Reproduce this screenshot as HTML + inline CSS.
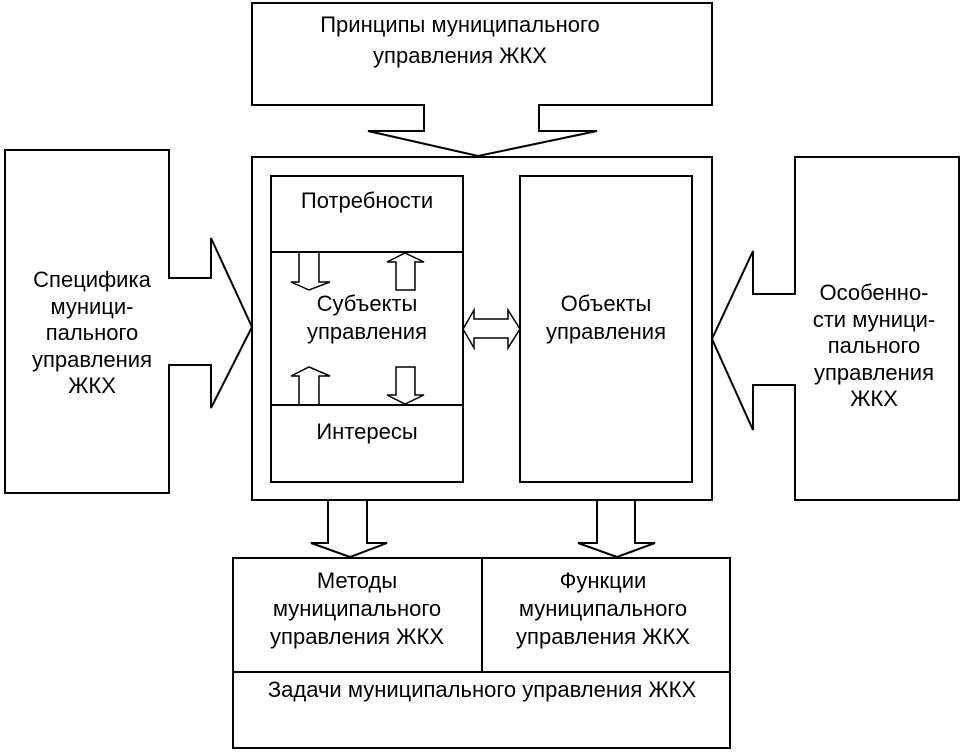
<!DOCTYPE html>
<html><head><meta charset="utf-8"><style>
html,body{margin:0;padding:0;background:#fff;}
svg{display:block;}
text{font-family:"Liberation Sans",Arial,sans-serif;font-size:22px;fill:#000;text-anchor:middle;}
</style></head><body>
<svg width="966" height="755" viewBox="0 0 966 755" xmlns="http://www.w3.org/2000/svg">
<g fill="none" stroke="#000" stroke-width="2">
<path d="M252,3 H712 V105 H539 V131 H597 L478,156 L368,131 H424 V105 H252 Z" fill="#fff"/>
<rect x="252" y="157" width="460" height="343"/>
<path d="M5,150 H169 V278 H211 V238 L252,327 L211,408 V365 H169 V493 H5 Z"/>
<path d="M959,157 H795 V294 H753 V251 L712,339 L753,430 V385 H795 V500 H959 Z"/>
<rect x="271" y="176" width="192" height="306"/>
<line x1="271" y1="252" x2="463" y2="252"/>
<line x1="271" y1="405" x2="463" y2="405"/>
<rect x="520" y="176" width="172" height="306"/>
<path d="M463,329 L474,310 V319 H508 V310 L520,329 L508,348 V338 H474 V348 Z" stroke-width="1.5"/>
<path d="M299,252 V282 H291 L309,290 L330,282 H319 V252" stroke-width="1.5"/>
<path d="M396,290 V262 H387 L405,253 L424,262 H415 V290 Z" stroke-width="1.5"/>
<path d="M299,405 V376 H291 L309,367 L330,376 H319 V405" stroke-width="1.5"/>
<path d="M396,367 V395 H387 L405,404 L424,395 H415 V367 Z" stroke-width="1.5"/>
<path d="M328,500 V543 H311 L350,557 L387,543 H367 V500"/>
<path d="M597,500 V543 H578 L617,557 L655,543 H635 V500"/>
<rect x="233" y="558" width="497" height="190"/>
<line x1="482" y1="558" x2="482" y2="672"/>
<line x1="233" y1="672" x2="730" y2="672"/>
</g>
<text x="460" y="32">Принципы муниципального</text>
<text x="460" y="63">управления ЖКХ</text>
<text x="92" y="287">Специфика</text>
<text x="92" y="314">муници-</text>
<text x="92" y="340">пального</text>
<text x="92" y="367">управления</text>
<text x="92" y="393">ЖКХ</text>
<text x="874" y="300">Особенно-</text>
<text x="874" y="327">сти муници-</text>
<text x="874" y="353">пального</text>
<text x="874" y="380">управления</text>
<text x="874" y="406">ЖКХ</text>
<text x="367" y="208">Потребности</text>
<text x="367" y="311">Субъекты</text>
<text x="367" y="339">управления</text>
<text x="367" y="439">Интересы</text>
<text x="606" y="311">Объекты</text>
<text x="606" y="339">управления</text>
<text x="357" y="588">Методы</text>
<text x="357" y="616">муниципального</text>
<text x="357" y="644">управления ЖКХ</text>
<text x="603" y="588">Функции</text>
<text x="603" y="616">муниципального</text>
<text x="603" y="644">управления ЖКХ</text>
<text x="482" y="697">Задачи муниципального управления ЖКХ</text>
</svg>
</body></html>
